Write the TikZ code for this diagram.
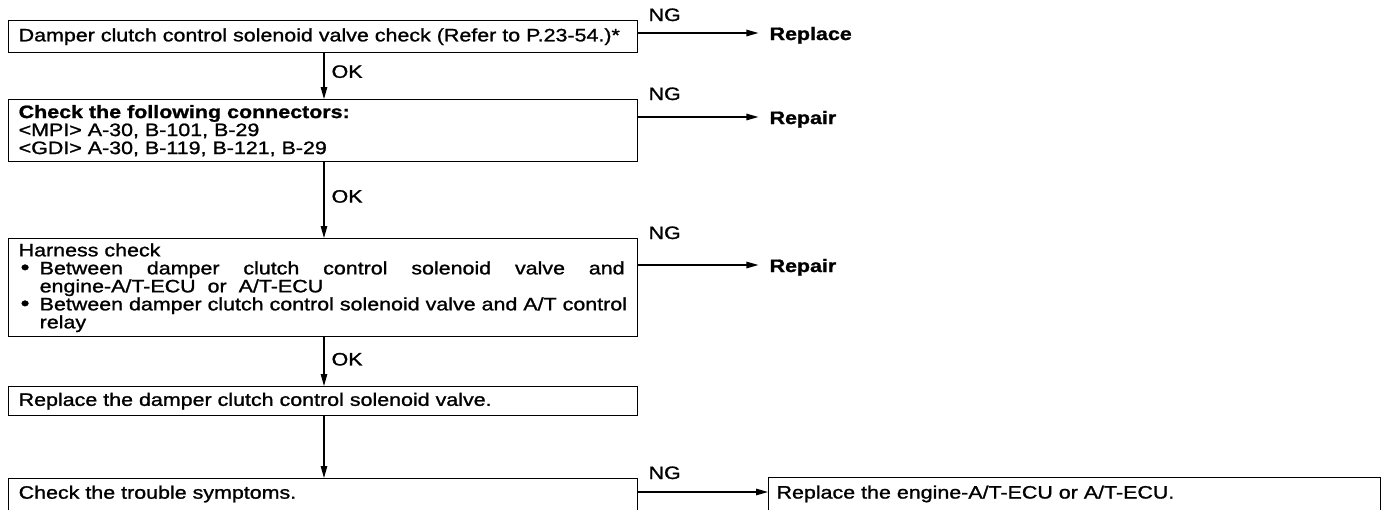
\documentclass[tikz,border=0pt]{standalone}
\usepackage{fontspec}
\setmainfont{Liberation Sans}[FakeStretch=1.19,FakeBold=1.2]
\usetikzlibrary{arrows.meta,calc}
\newcommand{\bul}{\hspace*{2pt}\makebox[19pt][l]{\fontsize{21}{18}\selectfont\textbullet}}
\newcommand{\ind}{\hspace*{21pt}}
\begin{document}
\begin{tikzpicture}[x=1pt,y=-1pt,
  font=\fontsize{18}{18}\selectfont,
  box/.style={draw,line width=1.4pt,anchor=north west,align=left,
    inner xsep=10pt,inner ysep=0pt,text width=609pt,minimum width=629pt},
  arr/.style={line width=1.2pt,-{Triangle[length=12pt,width=6.5pt]}},
  lbl/.style={inner sep=0pt},
  res/.style={anchor=base west,inner xsep=11pt,inner ysep=0pt,font=\fontsize{18}{18}\selectfont\bfseries},
  ng/.style={anchor=base west,inner sep=0pt,xshift=10pt,yshift=-1pt}]
\useasboundingbox (0,0) rectangle (1391,509);
\coordinate (ax) at (324,0);
% boxes
\node[box,minimum height=32pt] (b1) at (8,20)
  {Damper clutch control solenoid valve check (Refer to P.23-54.)*};
\node[box,minimum height=62pt] (b2) at (8,99)
  {\textbf{Check the following connectors:}\\
   <MPI> A-30, B-101, B-29\\
   <GDI> A-30, B-119, B-121, B-29};
\node[box,minimum height=98pt] (b3) at (8,238)
  {Harness check\\
   \bul\makebox[585pt][l]{Between\hfill damper\hfill clutch\hfill control\hfill solenoid\hfill valve\hfill and}\\
   \ind engine-A/T-ECU\ \ or\ \ A/T-ECU\\
   \bul\makebox[585pt][l]{Between damper clutch control solenoid valve and A/T control}\\
   \ind relay};
\node[box,minimum height=29pt] (b4) at (8,386)
  {Replace the damper clutch control solenoid valve.};
\node[box,text height=20pt,text depth=17pt] (b5) at (8,478)
  {Check the trouble symptoms.};
\node[draw,line width=1.1pt,anchor=north west,align=left,inner xsep=8pt,inner ysep=0pt,
  text width=596pt,text height=21pt,text depth=17pt] (b6) at (768,477)
  {Replace the engine-A/T-ECU or A/T-ECU.};
% arrow start points
\coordinate (n1) at ([yshift=-13pt]b1.north east);
\coordinate (n2) at ([yshift=-18pt]b2.north east);
\coordinate (n3) at ([yshift=-27pt]b3.north east);
\coordinate (n5) at ([yshift=-14pt]b5.north east);
% results
\node[res] (r1) at ([xshift=120pt,yshift=-7pt]n1) {Replace};
\node[res] (r2) at ([xshift=120pt,yshift=-7pt]n2) {Repair};
\node[res] (r3) at ([xshift=120pt,yshift=-7pt]n3) {Repair};
% NG arrows
\draw[arr] (n1) -- (n1 -| r1.west);
\draw[arr] (n2) -- (n2 -| r2.west);
\draw[arr] (n3) -- (n3 -| r3.west);
\draw[arr] (n5) -- (n5 -| b6.west);
\node[ng] (ng1) at (b1.north east) {NG};
\node[ng] (ng2) at (b2.north east) {NG};
\node[ng] (ng3) at (b3.north east) {NG};
\node[ng] (ng4) at (b5.north east) {NG};
% OK arrows
\draw[arr] (b1.south -| ax) -- node[right,lbl,xshift=7pt,pos=0.4] (ok1) {OK} (b2.north -| ax);
\draw[arr] (b2.south -| ax) -- node[right,lbl,xshift=7pt,pos=0.45] (ok2) {OK} (b3.north -| ax);
\draw[arr] (b3.south -| ax) -- node[right,lbl,xshift=7pt,pos=0.45] (ok3) {OK} (b4.north -| ax);
\draw[arr] (b4.south -| ax) -- (b5.north -| ax);
\end{tikzpicture}
\end{document}
